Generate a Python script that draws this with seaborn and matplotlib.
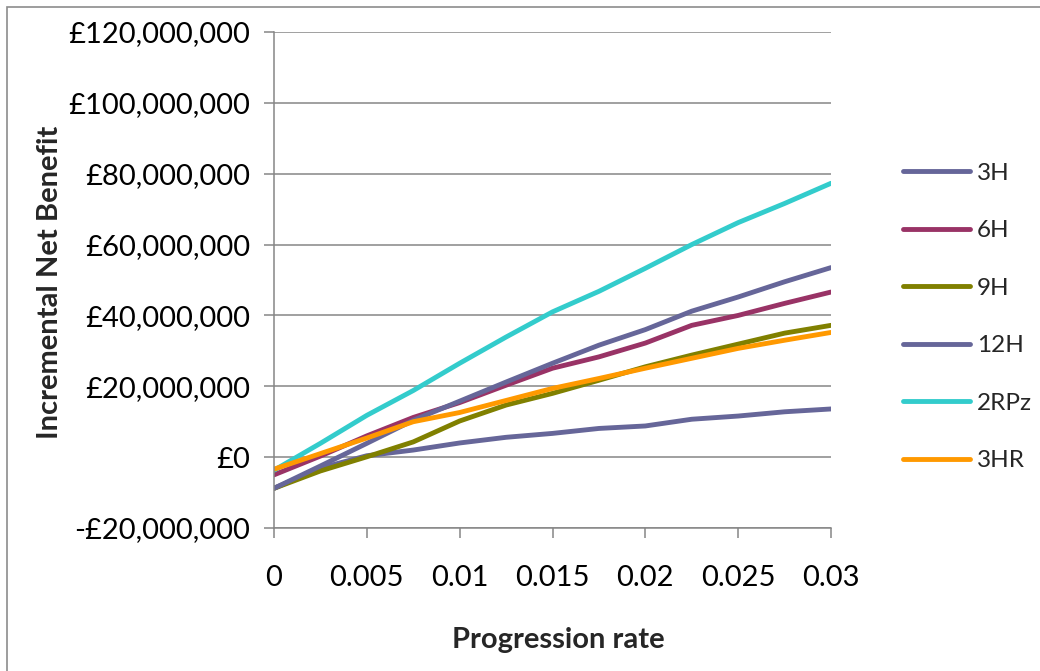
import numpy as np
import pandas as pd
import seaborn as sns
import matplotlib.pyplot as plt
from matplotlib.ticker import FuncFormatter
from matplotlib.patches import Rectangle

# progression rate points
rate = [0, 0.0025, 0.005, 0.0075, 0.01, 0.0125, 0.015, 0.0175, 0.02, 0.0225, 0.025, 0.0275, 0.03]

# incremental net benefit in £ millions
inb_3h = [-8.8, -3.1, 0.4, 2.0, 4.0, 5.6, 6.7, 8.1, 8.8, 10.7, 11.6, 12.8, 13.6]
inb_6h = [-5.0, 0.3, 6.0, 11.2, 15.4, 20.3, 25.1, 28.3, 32.2, 37.2, 40.0, 43.4, 46.6]
inb_9h = [-8.8, -3.9, 0.1, 4.3, 10.2, 14.7, 18.0, 21.7, 25.5, 28.8, 31.9, 35.0, 37.2]
inb_12h = [-8.8, -2.5, 3.9, 10.4, 15.8, 21.2, 26.5, 31.6, 36.0, 41.2, 45.2, 49.5, 53.5]
inb_2rpz = [-3.7, 3.9, 11.8, 18.8, 26.5, 33.9, 41.0, 46.8, 53.3, 60.0, 66.2, 71.6, 77.3]
inb_3hr = [-3.4, 1.0, 5.4, 10.0, 12.6, 16.0, 19.4, 22.2, 25.1, 27.9, 30.7, 33.0, 35.2]

strategies = ['3H', '6H', '9H', '12H', '2RPz', '3HR']
colors = ['#666699', '#993366', '#808000', '#666699', '#33CCCC', '#FF9900']

series = [inb_3h, inb_6h, inb_9h, inb_12h, inb_2rpz, inb_3hr]
frames = []
for name, vals in zip(strategies, series):
    frames.append(pd.DataFrame({'rate': rate,
                                'inb': np.array(vals) * 1e6,
                                'strategy': name}))
df = pd.concat(frames, ignore_index=True)

sns.set_style('white')
plt.rcParams['font.family'] = ['Lato', 'DejaVu Sans']

fig = plt.figure(figsize=(10.4, 6.71), dpi=100)
ax = fig.add_axes([274 / 1040, 1 - 528 / 671, 557 / 1040, 496 / 671])

sns.lineplot(data=df, x='rate', y='inb', hue='strategy', hue_order=strategies,
             palette=dict(zip(strategies, colors)), estimator=None, sort=True,
             linewidth=3.5, ax=ax)
for line in ax.get_lines():
    line.set_solid_capstyle('round')
    line.set_solid_joinstyle('round')

ax.set_xlim(0, 0.03)
ax.set_ylim(-20e6, 120e6)
ax.set_xticks([0, 0.005, 0.01, 0.015, 0.02, 0.025, 0.03])
ax.set_yticks(np.arange(-20e6, 121e6, 20e6))
ax.xaxis.set_major_formatter(FuncFormatter(lambda v, p: '{:g}'.format(round(v, 4))))
ax.yaxis.set_major_formatter(FuncFormatter(
    lambda v, p: ('-' if v < 0 else '') + '£{:,.0f}'.format(abs(v))))

# gridlines and axes look
ax.grid(axis='y', color='#868686', linewidth=1.1)
ax.grid(axis='x', visible=False)
for side in ['top', 'right']:
    ax.spines[side].set_visible(False)
for side in ['left', 'bottom']:
    ax.spines[side].set_color('#868686')
    ax.spines[side].set_linewidth(1.1)
ax.tick_params(axis='both', direction='out', length=7, width=1.1, color='#868686',
               labelsize=21, labelcolor='black')
ax.tick_params(axis='y', pad=10, left=True)
ax.tick_params(axis='x', pad=20, bottom=True)

ax.set_xlabel('Progression rate', fontsize=21, fontweight='bold')
ax.set_ylabel('Incremental Net Benefit', fontsize=21, fontweight='bold')
ax.xaxis.set_label_coords((558 - 274) / 557, (528 - 627) / 496)
ax.yaxis.set_label_coords((63 - 274) / 557, (528 - 282) / 496)

# legend on the right
handles, labels = ax.get_legend_handles_labels()
ax.legend(handles, labels, loc='center left', bbox_to_anchor=(903 / 1040, 1 - 317 / 671),
          bbox_transform=fig.transFigure, frameon=False, fontsize=17.5,
          borderpad=0, borderaxespad=0,
          handlelength=2.75, handletextpad=0.3, labelspacing=1.5)

# chart area border (left and top edges visible)
fig.add_artist(Rectangle((7 / 1040, -0.1), 1.2, 1.1 - 7 / 671, transform=fig.transFigure,
                         fill=False, edgecolor='#8c8c8c', linewidth=1.2))

plt.savefig('out.png', dpi=100)
